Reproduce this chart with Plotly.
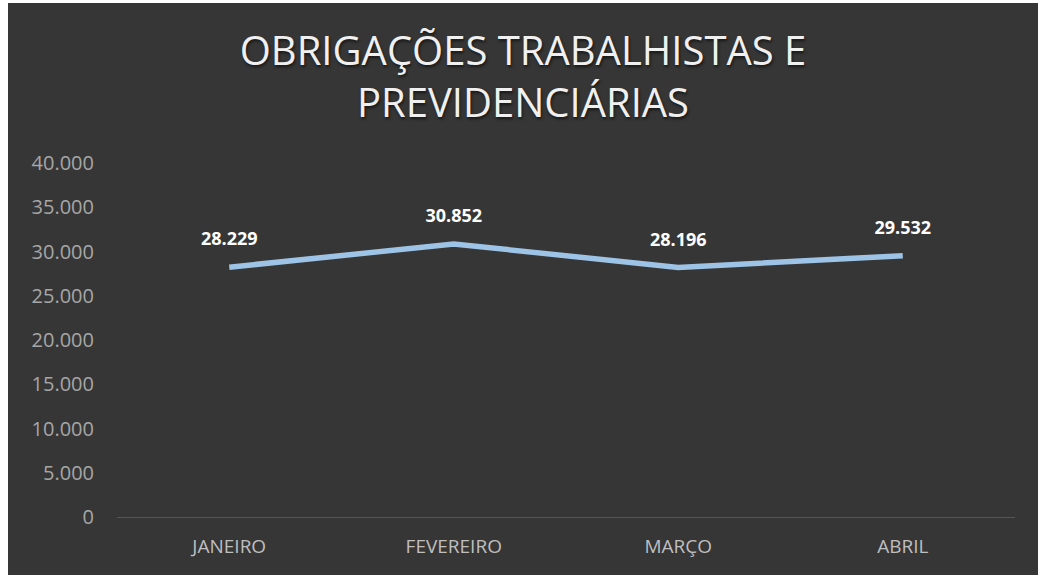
import plotly.graph_objects as go

months = ["JANEIRO", "FEVEREIRO", "MARÇO", "ABRIL"]
valores = [28229, 30852, 28196, 29532]
y_ticks = [0, 5000, 10000, 15000, 20000, 25000, 30000, 35000, 40000]

fig = go.Figure()
fig.add_trace(go.Scatter(
    x=months, y=valores,
    mode="lines+markers+text",
    line={"color": "#9DC3E6", "width": 5.5},
    marker={"size": 26, "color": "rgba(0,0,0,0)"},
    text=valores,
    texttemplate="%{y:,.0f}",
    textposition="top center",
    textfont={"family": "Open Sans", "size": 18, "color": "#FFFFFF", "weight": "bold"},
    hoverinfo="skip",
))

fig.update_layout(
    width=1030, height=572,
    separators=",.",
    paper_bgcolor="#363636",
    plot_bgcolor="#363636",
    showlegend=False,
    title={
        "text": "OBRIGAÇÕES TRABALHISTAS E<br>PREVIDENCIÁRIAS",
        "x": 0.5, "xanchor": "center",
        "yref": "container", "y": 0.892, "yanchor": "middle",
        "font": {"family": "Open Sans", "size": 40, "color": "#F0F0F0",
                 "shadow": "1px 2px 3px rgba(0,0,0,0.6)"},
    },
    margin={"l": 109, "r": 23, "t": 160, "b": 58},
    font={"family": "Open Sans", "color": "#A6A6A6"},
)
fig.update_xaxes(
    range=[-0.5, 3.5],
    showgrid=False, showline=False, zeroline=False,
    tickfont={"size": 19, "color": "#BFBFBF"},
    ticklabelstandoff=16,
)
fig.update_yaxes(
    range=[0, 40000],
    tickvals=y_ticks,
    tickformat=",.0f",
    showgrid=False, showline=False,
    zeroline=True, zerolinecolor="#555555", zerolinewidth=1,
    tickfont={"size": 20, "color": "#A6A6A6"},
    ticklabelstandoff=22,
)

fig.write_html("out.html", post_script="document.body.style.margin='3px 0 0 8px';")
